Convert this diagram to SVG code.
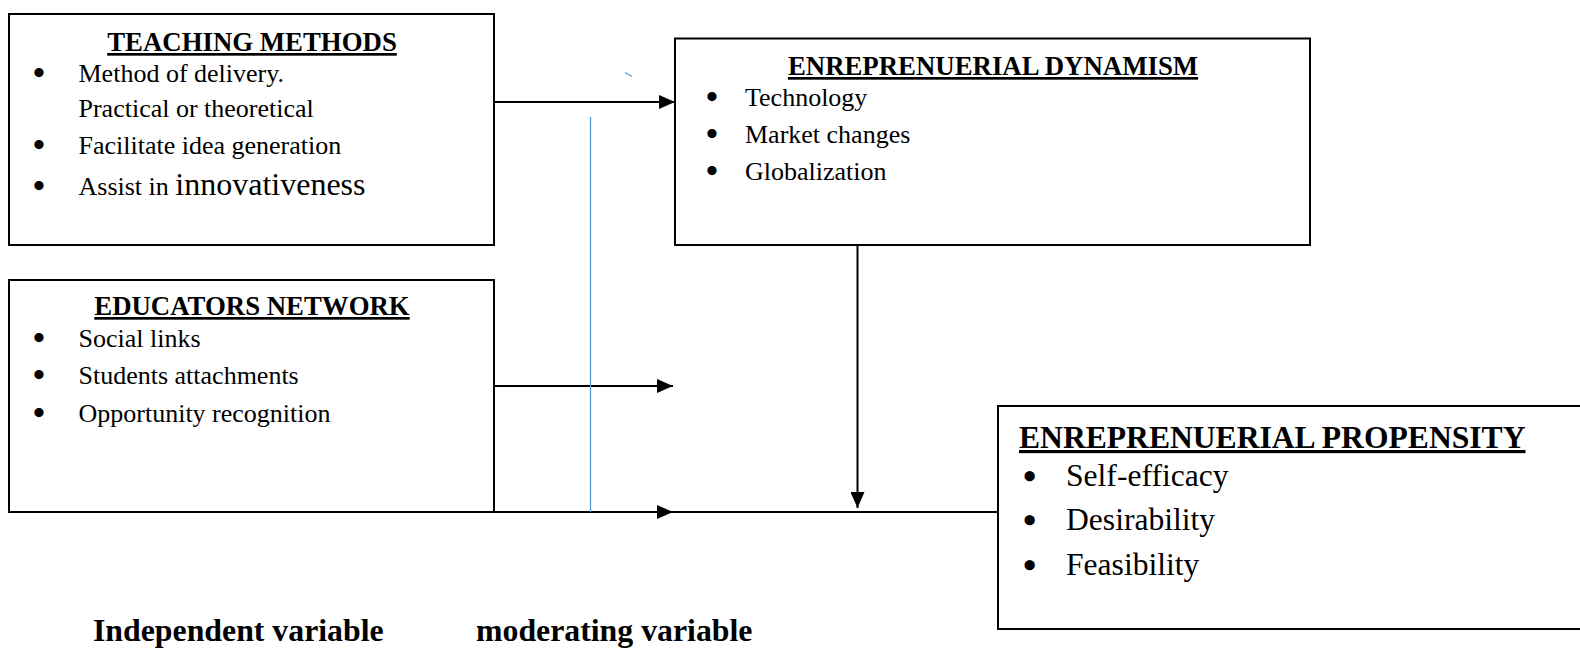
<svg xmlns="http://www.w3.org/2000/svg" width="1580" height="649" viewBox="0 0 1580 649">
<style>
.box{fill:#fff;stroke:#000;stroke-width:2}
.t{font-family:"Liberation Serif","Times New Roman",serif;fill:#000}
.h{font-weight:bold;text-decoration:underline;font-size:26.8px}
.b{font-size:26px}
.d{font-size:34px;font-weight:bold}
.pb{font-size:31.6px}
.pd{font-size:38px;font-weight:bold}
.ln{stroke:#000;stroke-width:2;fill:none}
.blue{stroke:#5B9BD5;stroke-width:1.3;fill:none}
.lbl{font-weight:bold;font-size:31.8px}
</style>
<defs>
<marker id="ah" markerWidth="16" markerHeight="14" refX="16" refY="7" orient="auto" markerUnits="userSpaceOnUse">
<path d="M0,0 L16,7 L0,14 Z" fill="#000"/>
</marker>
</defs>
<rect width="1580" height="649" fill="#fff"/>
<g id="connectors">
<path class="ln" d="M494,102 H675" marker-end="url(#ah)"/>
<path class="ln" d="M494,386 H673" marker-end="url(#ah)"/>
<path class="ln" d="M494,512 H673" marker-end="url(#ah)"/>
<path class="ln" d="M673,512 H998"/>
<path class="ln" d="M857.5,245 V508" marker-end="url(#ah)"/>
<path class="blue" d="M590.5,117 V512"/>
<path class="blue" d="M625,72.5 L632,76.5"/>
</g>
<g id="teaching">
<rect class="box" x="9" y="14" width="485" height="231"/>
<text class="t h" x="252" y="51" text-anchor="middle">TEACHING METHODS</text>
<text class="t d" x="33" y="84">•</text>
<text class="t b" x="78.5" y="82">Method of delivery.</text>
<text class="t b" x="78.5" y="117">Practical or theoretical</text>
<text class="t d" x="33" y="156">•</text>
<text class="t b" x="78.5" y="154">Facilitate idea generation</text>
<text class="t d" x="33" y="197">•</text>
<text class="t" x="78.5" y="195"><tspan font-size="26">Assist in </tspan><tspan font-size="32">innovativeness</tspan></text>
</g>
<g id="dynamism">
<rect class="box" x="675" y="38.5" width="635" height="206.5"/>
<text class="t h" x="993" y="75" text-anchor="middle">ENREPRENUERIAL DYNAMISM</text>
<text class="t d" x="706" y="108">•</text>
<text class="t b" x="745" y="106">Technology</text>
<text class="t d" x="706" y="145">•</text>
<text class="t b" x="745" y="143">Market changes</text>
<text class="t d" x="706" y="182">•</text>
<text class="t b" x="745" y="180">Globalization</text>
</g>
<g id="educators">
<rect class="box" x="9" y="280" width="485" height="232"/>
<text class="t h" x="252" y="315" text-anchor="middle">EDUCATORS NETWORK</text>
<text class="t d" x="33" y="349">•</text>
<text class="t b" x="78.5" y="347">Social links</text>
<text class="t d" x="33" y="386">•</text>
<text class="t b" x="78.5" y="384">Students attachments</text>
<text class="t d" x="33" y="424">•</text>
<text class="t b" x="78.5" y="422">Opportunity recognition</text>
</g>
<g id="propensity">
<rect class="box" x="998" y="406" width="600" height="223"/>
<text class="t pb" x="1019" y="448" font-weight="bold" text-decoration="underline" font-size="32.2">ENREPRENUERIAL PROPENSITY</text>
<text class="t pd" x="1023" y="489">•</text>
<text class="t pb" x="1066" y="486">Self-efficacy</text>
<text class="t pd" x="1023" y="533">•</text>
<text class="t pb" x="1066" y="530">Desirability</text>
<text class="t pd" x="1023" y="578">•</text>
<text class="t pb" x="1066" y="575">Feasibility</text>
</g>
<g id="labels">
<text class="t lbl" x="93" y="641">Independent variable</text>
<text class="t lbl" x="476" y="641">moderating variable</text>
</g>
</svg>
